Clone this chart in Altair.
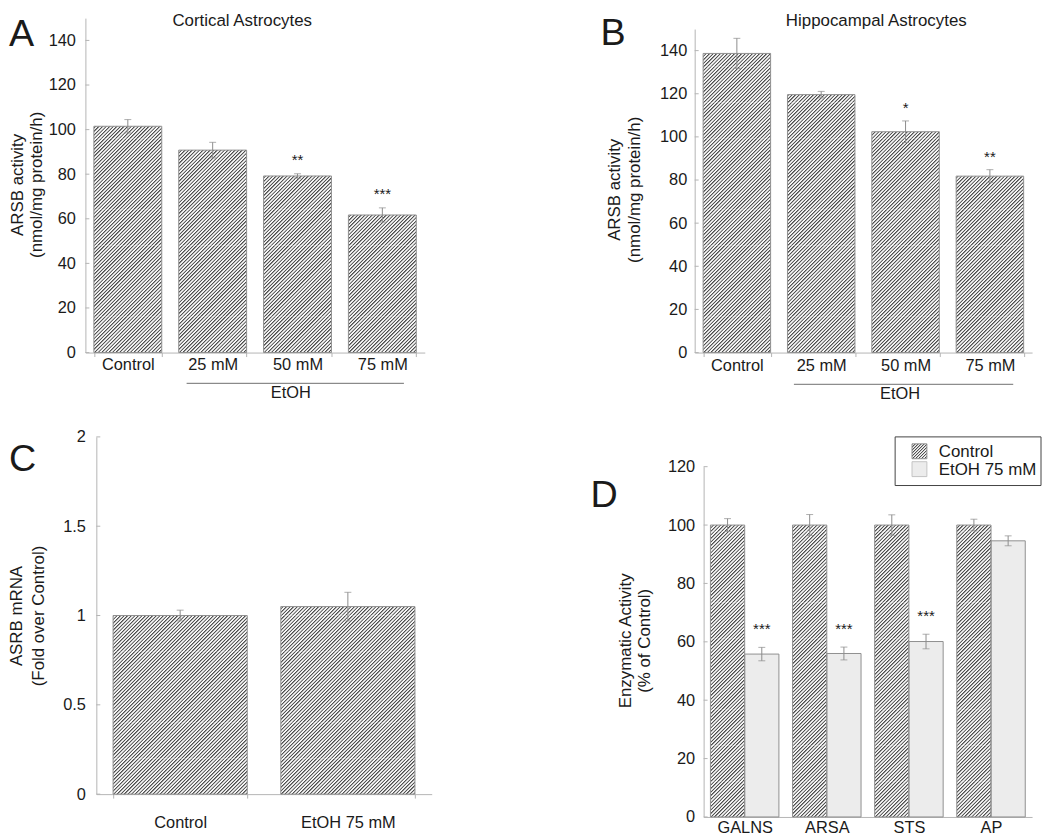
import math
import altair as alt
import pandas as pd

FONT = "Liberation Sans"

# ---------------- data ----------------
A_CATS = ["Control", "25 mM", "50 mM", "75 mM"]
A_VALS = [101.5, 90.8, 79.2, 61.7]
A_ERR = [3.0, 3.5, 1.0, 3.2]
A_SIG = ["", "", "**", "***"]

B_CATS = ["Control", "25 mM", "50 mM", "75 mM"]
B_VALS = [138.7, 119.6, 102.4, 81.8]
B_ERR = [7.0, 1.5, 5.0, 3.0]
B_SIG = ["", "", "*", "**"]

C_CATS = ["Control", "EtOH 75 mM"]
C_VALS = [1.0, 1.05]
C_ERR = [0.03, 0.08]
C_SIG = ["", ""]

D_GROUPS = ["GALNS", "ARSA", "STS", "AP"]
D_SERIES = ["Control", "EtOH 75 mM"]
D_CTRL = [100, 100, 100, 100]
D_CTRL_ERR = [2.2, 3.6, 3.5, 2.0]
D_ETOH = [55.8, 56.0, 60.1, 94.6]
D_ETOH_ERR = [2.3, 2.2, 2.5, 1.7]
D_SIG = ["***", "***", "***", ""]

A_TICKS = [0, 20, 40, 60, 80, 100, 120, 140]
B_TICKS = [0, 20, 40, 60, 80, 100, 120, 140]
C_TICKS = [0, 0.5, 1, 1.5, 2]
D_TICKS = [0, 20, 40, 60, 80, 100, 120]

# ---------------- styles ----------------
AXIS_COL = "#b4b4b4"
BAR_STROKE = "#8f8f8f"
ERR_COL = "#8c8c8c"
TXT = "#1a1a1a"
LIGHT_FILL = "#ececec"
LAB = 16.5
SEG = 36          # hatch tile height (px); stripes continue across tiles
SEG_M = 10        # stripes per tile height -> period SEG / SEG_M
H_DARK, H_MID, H_LIGHT = "#4f4f4f", "#a2a2a2", "#f6f6f6"


def hatch(w, h, p, c0=0.0):
    """'/' hatch as a bbox-unit linear gradient: dark stripe centres where
    px + py = c0 + i*p (45 deg on screen); soft triangle profile."""
    n = max(1, int(math.ceil((w + h - c0) / p)))
    L = n * p
    k = L / (w * w + h * h)
    x1 = c0 / w
    stops = []
    for i in range(n):
        for f, col in ((0.0, H_DARK), (0.18, H_DARK), (0.36, H_MID),
                       (0.5, H_LIGHT), (0.82, H_LIGHT), (1.0, H_MID)):
            stops.append({"offset": round(min(1.0, (i + f) / n), 6), "color": col})
    return {"gradient": "linear", "x1": round(x1, 6), "y1": 0,
            "x2": round(x1 + k * w, 6), "y2": round(k * h, 6), "stops": stops}


def hatch_layers(records, w, ppu, xenc, yscale, yaxis):
    """Hatched bars drawn as stacked tiles so each gradient stays short."""
    p = SEG / SEG_M
    full, parts = [], []
    for r in records:
        hp = r["v"] * ppu
        nf = int(hp // SEG)
        for j in range(nf):
            full.append({**r, "s0": j * SEG / ppu, "s1": (j + 1) * SEG / ppu})
        rest = hp - nf * SEG
        if rest > 0.05:
            parts.append(({**r, "s0": nf * SEG / ppu, "s1": r["v"]}, rest, hp))
    ys = dict(y=alt.Y("s0:Q", scale=yscale, axis=yaxis), y2="s1:Q")
    layers = []
    if full:
        layers.append(alt.Chart(pd.DataFrame(full)).mark_bar(
            fill=hatch(w, SEG, p, 0.0)).encode(**xenc, **ys))
    for rec, hh, top in parts:
        c0 = (top % p) - p
        layers.append(alt.Chart(pd.DataFrame([rec])).mark_bar(
            fill=hatch(w, hh, p, c0)).encode(**xenc, **ys))
    return layers


def one():
    return alt.Data(values=[{"f": 1}])


def frame(l, r, t, b):
    return alt.Chart(one()).mark_rect(fillOpacity=0, strokeOpacity=0, opacity=0).encode(
        x=alt.value(l), x2=alt.value(r), y=alt.value(t), y2=alt.value(b))


def note(text, x, y, size=16, align="center", baseline="middle", angle=0):
    kw = dict(text=text, font=FONT, fontSize=size, align=align,
              baseline=baseline, color=TXT)
    if angle:
        kw["angle"] = angle
    return alt.Chart(one()).mark_text(**kw).encode(x=alt.value(x), y=alt.value(y))


def ytitle(lines, x_first, lh, yc):
    return [note(t, x_first + i * lh, yc, size=17, angle=270) for i, t in enumerate(lines)]


def hline(x1, x2, y, color="#6f6f6f"):
    return alt.Chart(one()).mark_rule(color=color, strokeWidth=1).encode(
        x=alt.value(x1), x2=alt.value(x2), y=alt.value(y))


def box(x1, x2, y1, y2, fill, stroke, sw=1):
    return alt.Chart(one()).mark_rect(fill=fill, stroke=stroke, strokeWidth=sw).encode(
        x=alt.value(x1), x2=alt.value(x2), y=alt.value(y1), y2=alt.value(y2))


def y_axis(ticks, lab_pad, offset=0):
    return alt.Axis(values=ticks, format="~f", ticks=False, grid=False,
                    domainColor=AXIS_COL, domainWidth=1,
                    labelFontSize=LAB, labelFont=FONT, labelColor=TXT,
                    labelPadding=lab_pad, title=None, offset=offset)


def x_axis(lab_pad, ticks=True):
    return alt.Axis(title=None, labelAngle=0, labelFontSize=LAB, labelFont=FONT,
                    labelColor=TXT, domainColor=AXIS_COL, tickColor=AXIS_COL,
                    tickSize=4, ticks=ticks, tickBand="extent",
                    labelPadding=lab_pad)


def inward_ticks(ticks, yscale, yaxis, x0=0):
    return alt.Chart(pd.DataFrame({"t": ticks})).mark_rule(
        color=AXIS_COL, strokeWidth=1).encode(
        x=alt.value(x0), x2=alt.value(x0 + 4),
        y=alt.Y("t:Q", scale=yscale, axis=yaxis))


def simple_panel(cats, vals, errs, sigs, W, H, ymax, ticks, xrange, yrange,
                 xlab_pad, ylab_pad, star_dy, extras, frm, yoffset=0):
    df = pd.DataFrame({
        "cat": cats, "v": vals,
        "lo": [v - e for v, e in zip(vals, errs)],
        "hi": [v + e for v, e in zip(vals, errs)],
        "sig": sigs,
    })
    pin = 0.2
    xscale = alt.Scale(domain=cats, paddingInner=pin, paddingOuter=pin / 2,
                       range=list(xrange))
    xaxis = x_axis(xlab_pad)
    yscale = alt.Scale(domain=[0, ymax], nice=False, zero=True, range=list(yrange))
    yaxis = y_axis(ticks, ylab_pad, yoffset)
    X = alt.X("cat:N", scale=xscale, axis=xaxis)
    base = alt.Chart(df)
    bw = (xrange[1] - xrange[0]) / len(cats) * (1 - pin)
    ppu = (yrange[0] - yrange[1]) / ymax
    layers = hatch_layers([{"cat": c, "v": v} for c, v in zip(cats, vals)],
                          bw, ppu, {"x": X}, yscale, yaxis)
    layers.append(base.mark_bar(fillOpacity=0, stroke=BAR_STROKE, strokeWidth=1).encode(
        x=X, y=alt.Y("v:Q", scale=yscale, axis=yaxis)))
    layers.append(base.mark_rule(color=ERR_COL, strokeWidth=1).encode(
        x=X, y=alt.Y("lo:Q", scale=yscale, axis=yaxis), y2="hi:Q"))
    for f in ["hi", "lo"]:
        layers.append(base.mark_tick(color=ERR_COL, thickness=1, size=7).encode(
            x=X, y=alt.Y(f + ":Q", scale=yscale, axis=yaxis)))
    layers.append(base.transform_filter(alt.datum.sig != "").mark_text(
        font=FONT, fontSize=15, color=TXT, dy=star_dy, baseline="alphabetic").encode(
        x=X, y=alt.Y("hi:Q", scale=yscale, axis=yaxis), text="sig:N"))
    layers.append(inward_ticks(ticks, yscale, yaxis, x0=xrange[0]))
    layers += extras
    layers.append(frame(*frm))
    return alt.layer(*layers).properties(width=W, height=H)


# Grid origins (page px): row1 top 15, row2 top 437, col0 left 86,
# B left 700, D left 709.

# ---------------- Panel A ----------------
panel_a = simple_panel(
    A_CATS, A_VALS, A_ERR, A_SIG, 342, 337, 150, A_TICKS, (0, 342), (337, 0),
    0, 10, -8.5,
    ytitle(["ARSB activity", "(nmol/mg protein/h)"], -68, 19, 168)
    + [note("A", -77, 28, size=38, align="left", baseline="alphabetic"),
       note("Cortical Astrocytes", 158, -5, size=17, baseline="top"),
       hline(102, 321, 368),
       note("EtOH", 207, 378, size=LAB)],
    (-78, 474, -7, 405))

# ---------------- Panel B ----------------
panel_b = simple_panel(
    B_CATS, B_VALS, B_ERR, B_SIG, 340, 337, 150, B_TICKS, (0, 340), (337, 11),
    1, 8, -7.5,
    ytitle(["ARSB activity", "(nmol/mg protein/h)"], -80, 20, 173)
    + [note("B", -95, 27, size=38, align="left", baseline="alphabetic"),
       note("Hippocampal Astrocytes", 183, -5, size=17, baseline="top"),
       hline(100, 321, 369),
       note("EtOH", 207, 379, size=LAB)],
    (-140, 342, -7, 405))

# ---------------- Panel C ----------------
panel_c = simple_panel(
    C_CATS, C_VALS, C_ERR, C_SIG, 349, 360, 2, C_TICKS, (11, 349), (360, 0),
    17, 11, -8,
    ytitle(["ASRB mRNA", "(Fold over Control)"], -68.5, 22, 180.5)
    + [note("C", -77, 34, size=38, align="left", baseline="alphabetic")],
    (-78, 474, -17, 401), yoffset=-11)

# ---------------- Panel D ----------------
WD, HD = 331, 383
D_YMAX = 120
D_YRANGE = (383, 30)
rows = []
for g, cv, ce, ev, ee, s in zip(D_GROUPS, D_CTRL, D_CTRL_ERR, D_ETOH, D_ETOH_ERR, D_SIG):
    rows.append({"group": g, "series": D_SERIES[0], "v": cv, "lo": cv - ce, "hi": cv + ce, "sig": ""})
    rows.append({"group": g, "series": D_SERIES[1], "v": ev, "lo": ev - ee, "hi": ev + ee, "sig": s})
dfd = pd.DataFrame(rows)
pin_d = 0.166
xs_d = alt.Scale(domain=D_GROUPS, paddingInner=pin_d, paddingOuter=pin_d / 2)
xa_d = x_axis(3, ticks=False)
ys_d = alt.Scale(domain=[0, D_YMAX], nice=False, zero=True, range=list(D_YRANGE))
ya_d = y_axis(D_TICKS, 9)
XD = alt.X("group:N", scale=xs_d, axis=xa_d)
XO = alt.XOffset("series:N", scale=alt.Scale(domain=D_SERIES, paddingInner=0, paddingOuter=0))
based = alt.Chart(dfd)
bw_d = WD / len(D_GROUPS) * (1 - pin_d) / 2
ppu_d = (D_YRANGE[0] - D_YRANGE[1]) / D_YMAX
d_layers = hatch_layers(
    [{"group": g, "series": D_SERIES[0], "v": cv} for g, cv in zip(D_GROUPS, D_CTRL)],
    bw_d, ppu_d, {"x": XD, "xOffset": XO}, ys_d, ya_d)
d_layers.append(
    based.transform_filter(alt.datum.series == D_SERIES[1])
    .mark_bar(fill=LIGHT_FILL, stroke=BAR_STROKE, strokeWidth=1)
    .encode(x=XD, xOffset=XO, y=alt.Y("v:Q", scale=ys_d, axis=ya_d)))
d_layers.append(
    based.transform_filter(alt.datum.series == D_SERIES[0])
    .mark_bar(fillOpacity=0, stroke=BAR_STROKE, strokeWidth=1)
    .encode(x=XD, xOffset=XO, y=alt.Y("v:Q", scale=ys_d, axis=ya_d)))
d_layers.append(based.mark_rule(color=ERR_COL, strokeWidth=1).encode(
    x=XD, xOffset=XO, y=alt.Y("lo:Q", scale=ys_d, axis=ya_d), y2="hi:Q"))
for f in ["hi", "lo"]:
    d_layers.append(based.mark_tick(color=ERR_COL, thickness=1, size=7).encode(
        x=XD, xOffset=XO, y=alt.Y(f + ":Q", scale=ys_d, axis=ya_d)))
d_layers.append(based.transform_filter(alt.datum.sig != "").mark_text(
    font=FONT, fontSize=15, color=TXT, dy=-13.5, baseline="alphabetic").encode(
    x=XD, xOffset=XO, y=alt.Y("hi:Q", scale=ys_d, axis=ya_d), text="sig:N"))
d_layers.append(inward_ticks(D_TICKS, ys_d, ya_d))
d_layers += ytitle(["Enzymatic Activity", "(% of Control)"], -78.5, 19, 205.5)
d_layers += [
    note("D", -114, 71, size=38, align="left", baseline="alphabetic"),
    box(193, 340, 0, 49, "white", "#444444"),
    box(210, 225, 7, 22, hatch(15, 15, 3.0), BAR_STROKE),
    box(210, 225, 25, 40, LIGHT_FILL, "#c4c4c4"),
    note(D_SERIES[0], 237, 15, size=17, align="left"),
    note(D_SERIES[1], 237, 33, size=17, align="left"),
    frame(-149, 341, -17, 401),
]
panel_d = alt.layer(*d_layers).properties(width=WD, height=HD)

row1 = alt.hconcat(panel_a, panel_b, spacing=0)
row2 = alt.hconcat(panel_c, panel_d, spacing=0)
chart = (
    alt.vconcat(row1, row2, spacing=0)
    .properties(padding=0, background="white")
    .configure(font=FONT)
    .configure_view(stroke=None)
)

chart.save("out.html", embed_options={"renderer": "svg", "actions": False})
